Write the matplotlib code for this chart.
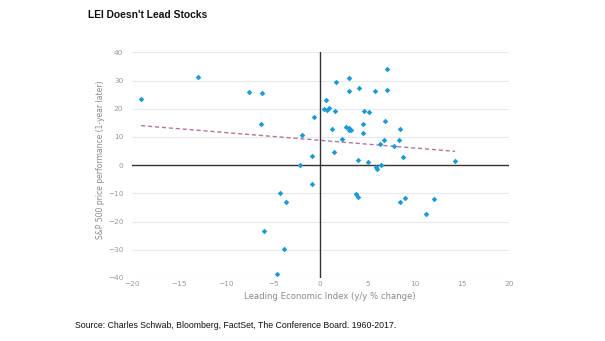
import matplotlib
matplotlib.use("Agg")
import matplotlib.pyplot as plt
import numpy as np

lei = [-19.05, -13.0, -7.59, -6.14, -6.24, -2.12, -1.94, -0.92, -0.67,
       0.63, 0.38, 0.74, 0.88, 1.59, 1.69, 1.27, 1.41, 2.33, 2.71, 3.03,
       3.10, 3.07, 3.03, 3.28, 4.09, 4.05, 4.51, 4.58, 4.69, 5.18, 5.04,
       5.78, 5.92, 6.03, 6.38, 6.42, 6.84, 6.80, 7.09, 7.09, 7.86, 8.32,
       8.46, 8.78, 14.3,
       -0.92, -4.31, -3.67, -6.0, -3.81, -4.62,
       3.84, 4.05, 8.43, 9.03, 11.2, 12.06]
spx = [23.4, 31.4, 26.1, 25.7, 14.7, 0.0, 10.7, 3.4, 17.1,
       23.1, 20.0, 19.5, 20.2, 19.3, 29.5, 12.7, 4.5, 9.4, 13.6, 31.0,
       26.3, 13.2, 12.4, 12.4, 27.2, 2.0, 11.3, 14.6, 19.1, 18.8, 1.05,
       26.3, -0.7, -1.2, 7.5, -0.1, 15.7, 8.9, 34.0, 26.6, 6.9, 9.0,
       12.8, 2.9, 1.4,
       -6.6, -9.8, -13.1, -23.5, -29.8, -38.5,
       -10.1, -11.4, -13.2, -11.6, -17.4, -11.9]
trend_x = [-19.0, 14.3]
trend_y = [14.0, 4.9]

fig = plt.figure(figsize=(6.05, 3.41), dpi=100)
ax = fig.add_axes([0.2177, 0.1848, 0.6233, 0.6618])
ax.set_xlim(-20, 20)
ax.set_ylim(-40, 40)
ax.set_yticks(range(-40, 41, 10))
ax.set_xticks(range(-20, 21, 5))
ax.yaxis.grid(True, color="#e6ecee", linewidth=0.8)
ax.set_axisbelow(True)
for s in ax.spines.values():
    s.set_visible(False)
ax.axhline(0, color="#333333", linewidth=1.0, zorder=1)
ax.axvline(0, color="#333333", linewidth=1.0, zorder=1)
ax.tick_params(axis="y", length=0, labelsize=5.3, labelcolor="#999999", pad=6)
ax.tick_params(axis="x", length=0, labelsize=5.3, labelcolor="#999999", pad=2)
ax.plot(trend_x, trend_y, linestyle=(0, (3, 2)), color="#b57799", linewidth=1.0, zorder=2)
ax.scatter(lei, spx, marker="D", s=8, color="#1a9ad6", linewidths=0, zorder=3)
ax.set_xlabel("Leading Economic Index (y/y % change)", fontsize=6.1, color="#888888")
ax.xaxis.set_label_coords(0.526, -0.064)
ax.set_ylabel("S&P 500 price performance (1-year later)", fontsize=5.5, color="#888888")
ax.yaxis.set_label_coords(-0.071, 0.523)

fig.text(88/605, 1 - 15/341, "LEI Doesn't Lead Stocks", fontsize=7.4, fontweight="bold",
         color="#111111", va="center", ha="left", family="Liberation Sans")
fig.text(75/605, 1 - 326/341, "Source: Charles Schwab, Bloomberg, FactSet, The Conference Board. 1960-2017.",
         fontsize=6.3, color="#111111", va="center", ha="left", family="Liberation Sans")
fig.savefig("out.png", dpi=100, facecolor="white")
